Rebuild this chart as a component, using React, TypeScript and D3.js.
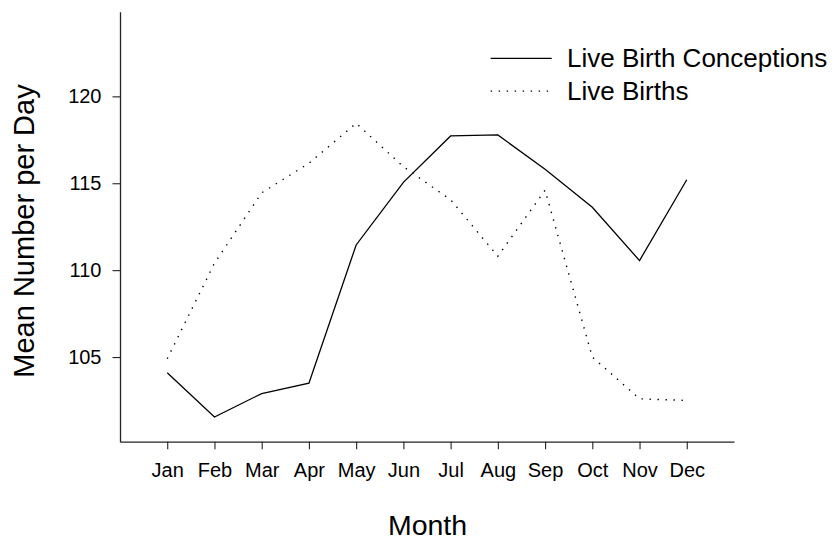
import React, { useRef, useEffect } from "react";
import * as d3 from "d3";

// month labels and the two series
const months = ["Jan", "Feb", "Mar", "Apr", "May", "Jun", "Jul", "Aug", "Sep", "Oct", "Nov", "Dec"];
const conceptions = [104.1, 101.55, 102.9, 103.5, 111.45, 115.05, 117.72, 117.78, 115.8, 113.62, 110.55, 115.2];
const births = [104.9, 110.4, 114.45, 116.15, 118.45, 115.95, 114.05, 110.8, 114.6, 105.0, 102.6, 102.5];
const yTicks = [105, 110, 115, 120];
const legendLabels = ["Live Birth Conceptions", "Live Births"];

const App = () => {
  const container = useRef<SVGSVGElement>(null);

  const width = 835;
  const height = 539;

  useEffect(() => {
    const svg = d3.select(container.current);
    svg.selectAll("*").remove();

    const xScale = d3.scaleLinear().domain([0, 13]).range([120, 734]);
    const yScale = d3.scaleLinear().domain([100.13, 124.87]).range([441.7, 11.7]);

    const font = "'Liberation Sans', Arial, Helvetica, sans-serif";

    // axes
    const xAxis = svg
      .append("g")
      .attr("transform", `translate(0, ${yScale(100.13)})`)
      .call(
        d3
          .axisBottom(xScale)
          .tickValues(months.map((_, i) => i + 1))
          .tickFormat((d) => months[(d as number) - 1])
          .tickSize(7.5)
          .tickPadding(14)
          .tickSizeOuter(0)
      );

    const yAxis = svg
      .append("g")
      .attr("transform", `translate(${xScale(0)}, 0)`)
      .call(d3.axisLeft(yScale).tickValues(yTicks).tickSize(7.5).tickPadding(11).tickSizeOuter(0));

    [xAxis, yAxis].forEach((ax) => {
      ax.select(".domain").attr("stroke", "#222").attr("stroke-width", 1.3);
      ax.selectAll(".tick line").attr("stroke", "#222").attr("stroke-width", 1.1);
      ax.selectAll("text").attr("fill", "#000").style("font-family", font).style("font-size", "20px");
    });

    // lines
    const line = d3
      .line<number>()
      .x((_, i) => xScale(i + 1))
      .y((d) => yScale(d));

    svg
      .append("path")
      .datum(conceptions)
      .attr("d", line)
      .attr("fill", "none")
      .attr("stroke", "#000")
      .attr("stroke-width", 1.3);

    svg
      .append("path")
      .datum(births)
      .attr("d", line)
      .attr("fill", "none")
      .attr("stroke", "#000")
      .attr("stroke-width", 1.4)
      .attr("stroke-dasharray", "1.4 6.6");

    // legend
    const legend = svg.append("g");
    legendLabels.forEach((label, i) => {
      const ly = 58.3 + i * 32.8;
      legend
        .append("line")
        .attr("x1", 490.7)
        .attr("x2", i === 0 ? 551.7 : 548)
        .attr("y1", ly)
        .attr("y2", ly)
        .attr("stroke", "#000")
        .attr("stroke-width", i === 0 ? 1.3 : 1.4)
        .attr("stroke-dasharray", i === 0 ? null : "1.4 6.6");
      legend
        .append("text")
        .attr("x", 567)
        .attr("y", ly + 8.6)
        .style("font-family", font)
        .style("font-size", "26px")
        .text(label);
    });

    // axis titles
    svg
      .append("text")
      .attr("x", 427.5)
      .attr("y", 535)
      .attr("text-anchor", "middle")
      .style("font-family", font)
      .style("font-size", "28.5px")
      .text("Month");

    svg
      .append("text")
      .attr("transform", `translate(33.5, 231) rotate(-90)`)
      .attr("text-anchor", "middle")
      .style("font-family", font)
      .style("font-size", "29px")
      .text("Mean Number per Day");
  }, []);

  return (
    <div style={{ position: "absolute", top: 0, left: 0, width: width, height: height, background: "#fff" }}>
      <svg ref={container} width={width} height={height} style={{ display: "block" }} />
    </div>
  );
};

export default App;
